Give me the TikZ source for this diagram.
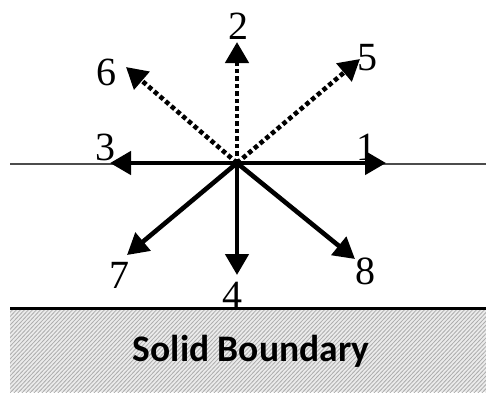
\documentclass[tikz,border=0pt]{standalone}
\usepackage{fontspec}
\setmainfont{Liberation Serif}
\newfontfamily\carlito{Carlito}
\usetikzlibrary{arrows.meta}
\begin{document}
\begin{tikzpicture}[x=1pt,y=-1pt,
  ray/.style={line width=4.6pt,-{Triangle[length=21pt,width=23pt]}},
  dray/.style={ray,line width=4.6pt,dash pattern=on 4.5pt off 3pt},
  lab/.style={font=\fontsize{40}{40}\selectfont,inner sep=0pt},
  thinline/.style={line width=2pt,black!70},
  ground/.style={line width=3pt,black}]
\useasboundingbox (0,0) rectangle (486,392);
% hatched solid
\begin{scope}
  \clip (10,309) rectangle (486,392);
  \fill[black!8] (10,309) rectangle (486,392);
  \foreach \i in {-100,-96,...,490} {
    \draw[black!32,line width=0.8pt] (\i,395) -- (\i+85,305);
  }
\end{scope}
\draw[ground] (10,308) coordinate (g1) -- (486,308) coordinate (g2);
\node[font=\carlito\bfseries\fontsize{37.5}{37.5}\selectfont,inner sep=0pt] (sb) at (251,351) {Solid Boundary};
% horizontal line
\coordinate (h1) at (10,164);
\coordinate (h2) at (486,164);
\draw[thinline] (h1) -- (h2);
\coordinate (o) at (237,163);
\coordinate (t1) at (386,163);
\coordinate (t2) at (237,42);
\coordinate (t3) at (110,163);
\coordinate (t4) at (237,275);
\coordinate (t5) at (360,59);
\coordinate (t6) at (126,67);
\coordinate (t7) at (127,255);
\coordinate (t8) at (355,259);
\draw[dray] (o) -- (t2);
\draw[dray] (o) -- (t5);
\draw[dray] (o) -- (t6);
\draw[ray] (o) -- (t1);
\draw[ray] (o) -- (t3);
\draw[ray] (o) -- (t4);
\draw[ray] (o) -- (t7);
\draw[ray] (o) -- (t8);
\node[lab] (n1) at (366,147) {1};
\node[lab] (n2) at (238,26) {2};
\node[lab] (n3) at (105,147) {3};
\node[lab] (n4) at (232,295) {4};
\node[lab] (n5) at (367,58) {5};
\node[lab] (n6) at (106,72) {6};
\node[lab] (n7) at (119,275) {7};
\node[lab] (n8) at (365,271) {8};
\end{tikzpicture}
\end{document}
